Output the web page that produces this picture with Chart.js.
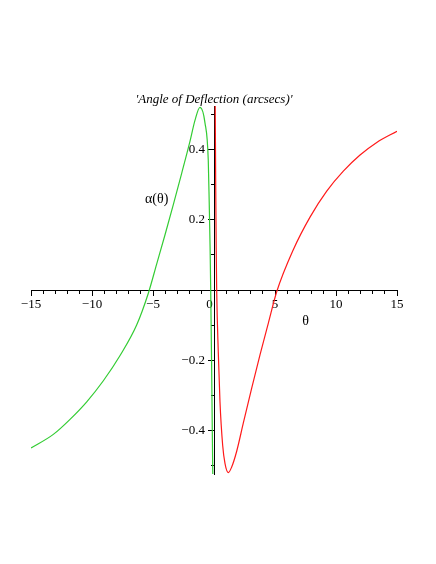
<!DOCTYPE html>
<html>
<head>
<meta charset="utf-8">
<script src="https://cdn.jsdelivr.net/npm/chart.js@4"></script>
<style>
  html, body { margin: 0; padding: 0; background: #fff; }
  canvas { display: block; }
</style>
</head>
<body>
<canvas id="chart" width="436" height="564" style="width:436px;height:564px"></canvas>
<script>
// values
const greenTheta = [-15, -13.17, -11.8, -10.43, -9.07, -7.7, -6.34, -5.39, -4.7, -4.02, -3.34, -2.65, -1.97, -1.56, -1.15, -0.74, -0.47, -0.39, -0.32, -0.27, -0.2, -0.14, -0.1];
const greenAlpha = [-0.451, -0.412, -0.369, -0.319, -0.259, -0.187, -0.1, -0.01, 0.074, 0.157, 0.243, 0.333, 0.424, 0.484, 0.521, 0.477, 0.37, 0.245, 0.12, 0, -0.2, -0.4, -0.525];
const redTheta = [0.1, 0.14, 0.18, 0.22, 0.35, 0.49, 0.71, 0.9, 1.17, 1.45, 1.86, 2.4, 3.09, 3.77, 4.45, 5.14, 6.5, 7.87, 9.24, 10.6, 11.97, 13.34, 15];
const redAlpha = [0.525, 0.3, 0.12, 0, -0.176, -0.319, -0.443, -0.495, -0.521, -0.505, -0.46, -0.38, -0.28, -0.185, -0.095, -0.005, 0.115, 0.208, 0.282, 0.339, 0.385, 0.421, 0.453];

const xMajorTicks = [-15, -10, -5, 0, 5, 10, 15];
const xMinorTicks = [-15, -14, -13, -12, -11, -10, -9, -8, -7, -6, -5, -4, -3, -2, -1, 0, 1, 2, 3, 4, 5, 6, 7, 8, 9, 10, 11, 12, 13, 14, 15];
const yMajorTicks = [-0.4, -0.2, 0.2, 0.4];
const yMinorTicks = [-0.5, -0.3, -0.1, 0.1, 0.3, 0.5];

const titleText = "'Angle of Deflection (arcsecs)'";
const xLabel = "θ";
const yLabel = "α(θ)";

const serif = "'Liberation Serif', 'DejaVu Serif', serif";

const toPoints = (xs, ys) => xs.map((x, i) => ({ x: x, y: ys[i] }));
const minus = (v) => (v < 0 ? "\u2212" + Math.abs(v) : String(v));

const labelsPlugin = {
  id: "mapleLabels",
  afterDraw(chart) {
    const ctx = chart.ctx;
    const x = chart.scales.x;
    const y = chart.scales.y;
    ctx.save();
    ctx.fillStyle = "#000";
    ctx.textAlign = "center";
    ctx.textBaseline = "middle";
    ctx.font = "italic 13px " + serif;
    ctx.fillText(titleText, x.getPixelForValue(0), chart.chartArea.top - 6);
    ctx.font = "14px " + serif;
    ctx.fillText(xLabel, x.getPixelForValue(7.5), y.getPixelForValue(-0.09));
    ctx.fillText(yLabel, x.getPixelForValue(-4.7), y.getPixelForValue(0.26));
    ctx.restore();
  }
};

const axisCommon = {
  border: { display: true, color: "#000", width: 1 },
  grid: { display: true, drawOnChartArea: false, color: "#000", tickColor: "#000", tickWidth: 1 }
};

new Chart(document.getElementById("chart").getContext("2d"), {
  type: "line",
  data: {
    datasets: [
      {
        data: toPoints(greenTheta, greenAlpha),
        borderColor: "#33cc33",
        borderWidth: 1.2,
        pointRadius: 0,
        fill: false,
        cubicInterpolationMode: "monotone"
      },
      {
        data: toPoints(redTheta, redAlpha),
        borderColor: "#ff1a1a",
        borderWidth: 1.2,
        pointRadius: 0,
        fill: false,
        cubicInterpolationMode: "monotone"
      }
    ]
  },
  options: {
    responsive: false,
    devicePixelRatio: 1,
    animation: false,
    layout: { padding: { left: 31, right: 39, top: 106, bottom: 90 } },
    plugins: {
      legend: { display: false },
      tooltip: { enabled: false },
      title: { display: false }
    },
    scales: {
      x: {
        type: "linear",
        min: -15,
        max: 15,
        position: { y: 0 },
        ...axisCommon,
        grid: { ...axisCommon.grid, tickLength: 5 },
        afterBuildTicks: (axis) => { axis.ticks = xMajorTicks.map((v) => ({ value: v })); },
        ticks: {
          autoSkip: false,
          maxRotation: 0,
          padding: 2,
          color: "#000",
          font: { family: serif, size: 13 },
          callback: (value) => (value === 0 ? "0\u2002\u2009" : minus(value))
        }
      },
      x2: {
        type: "linear",
        axis: "x",
        min: -15,
        max: 15,
        position: { y: 0 },
        ...axisCommon,
        grid: { ...axisCommon.grid, tickLength: 3 },
        afterBuildTicks: (axis) => { axis.ticks = xMinorTicks.map((v) => ({ value: v })); },
        ticks: { autoSkip: false, callback: () => "" }
      },
      y: {
        type: "linear",
        min: -0.525,
        max: 0.525,
        position: { x: 0 },
        ...axisCommon,
        grid: { ...axisCommon.grid, tickLength: 6 },
        afterBuildTicks: (axis) => { axis.ticks = yMajorTicks.map((v) => ({ value: v })); },
        ticks: {
          autoSkip: false,
          padding: 1,
          color: "#000",
          font: { family: serif, size: 13 },
          // labels of a centred axis sit on the axis line, trailing spaces push them left of the ticks
          callback: (value) => minus(value) + "\u2002\u2009"
        }
      },
      y2: {
        type: "linear",
        axis: "y",
        min: -0.525,
        max: 0.525,
        position: { x: 0 },
        ...axisCommon,
        grid: { ...axisCommon.grid, tickLength: 3 },
        afterBuildTicks: (axis) => { axis.ticks = yMinorTicks.map((v) => ({ value: v })); },
        ticks: { autoSkip: false, callback: () => "" }
      }
    }
  },
  plugins: [labelsPlugin]
});
</script>
</body>
</html>
